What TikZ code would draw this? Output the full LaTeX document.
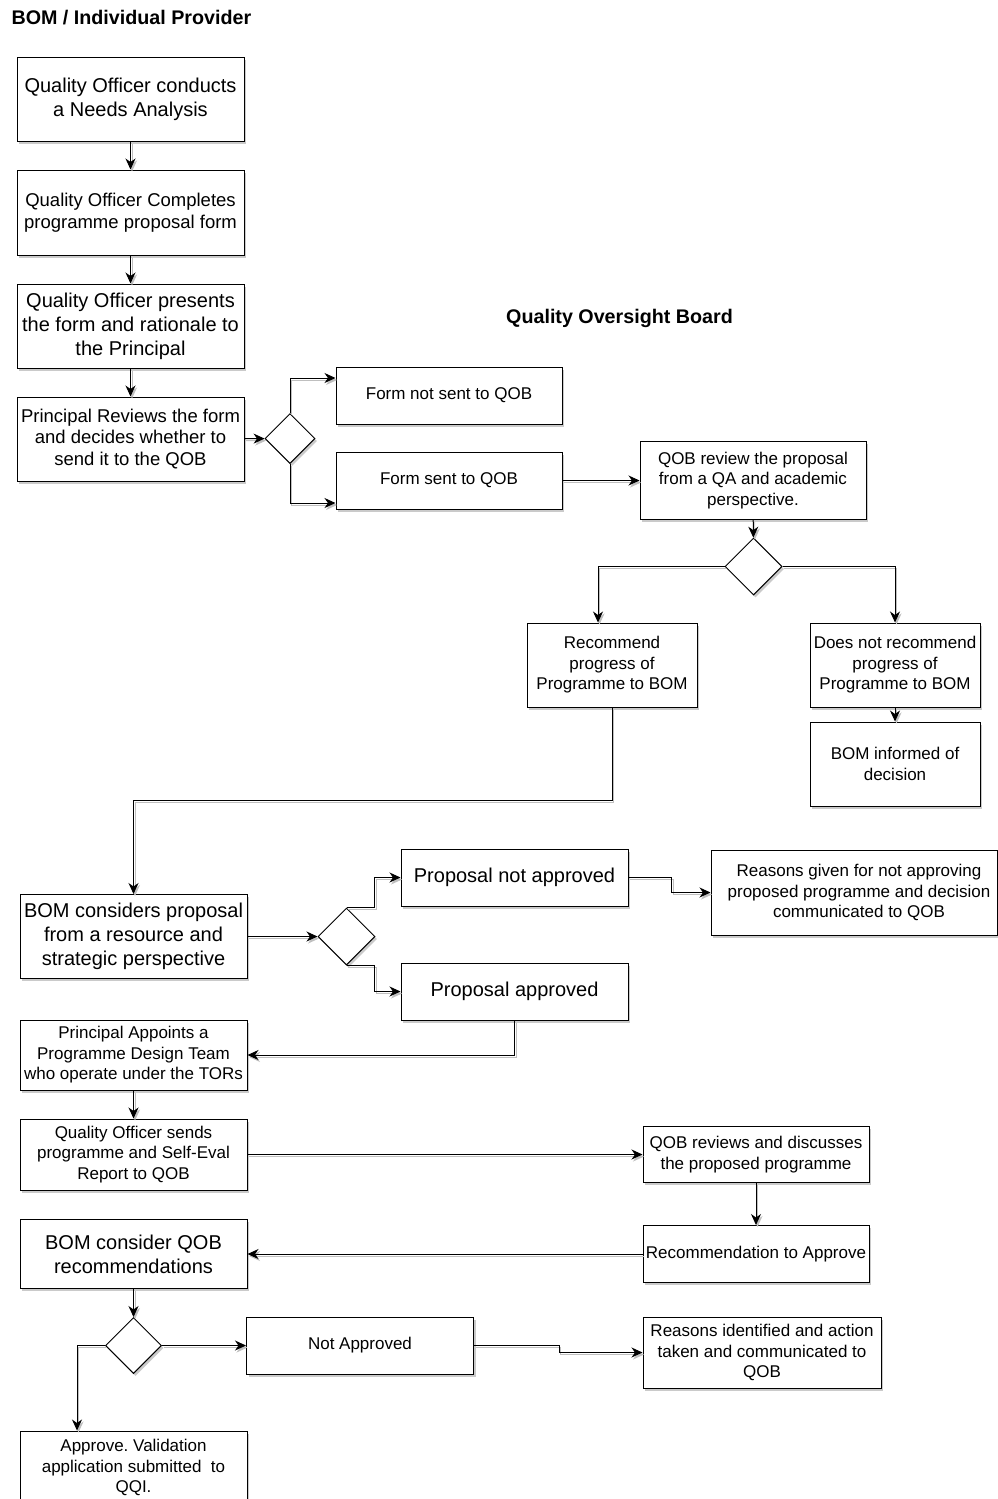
\documentclass[tikz,border=0pt]{standalone}
\usepackage{fontspec}
\setmainfont{Liberation Sans}
\usetikzlibrary{shapes,arrows.meta,positioning,shadows}
\frenchspacing

\begin{document}
\begin{tikzpicture}[x=1pt, y=-1pt,
    box/.style={draw, line width=1pt, fill=white, align=center, inner sep=2pt,
        drop shadow={shadow xshift=2pt, shadow yshift=-2.5pt, fill=black!35, opacity=0.6}},
    dec/.style={draw, line width=1pt, fill=white, diamond, aspect=1, inner sep=0pt,
        drop shadow={shadow xshift=2pt, shadow yshift=-2.5pt, fill=black!35, opacity=0.6}},
    edge/.style={draw, line width=1pt, -{Stealth[length=11pt, width=10pt, inset=3.5pt]},
        preaction={draw=black!25, line width=0.9pt, transform canvas={shift={(1.5pt,-2pt)}}}},
    bigtext/.style={font=\fontsize{20}{24}\selectfont},
    midtext/.style={font=\fontsize{18.5}{21.5}\selectfont},
    smalltext/.style={font=\fontsize{17}{20.5}\selectfont},
    title/.style={font=\fontsize{19.7}{23}\selectfont\bfseries}]

    \useasboundingbox (0,0) rectangle (998,1499);

    % Titles
    \node[title, anchor=west] (bomtitle) at (8,18) {BOM / Individual Provider};
    \node[title] (qobtitle) at (619.5,318) {Quality Oversight Board};

    % BOM side, top column
    \node[box, bigtext, minimum width=227, minimum height=84] (need) at (130.5,99) {Quality Officer conducts\\a Needs Analysis};
    \node[box, midtext, minimum width=227, minimum height=85] (form) at (130.5,212.5) {Quality Officer Completes\\programme proposal form};
    \node[box, bigtext, minimum width=227, minimum height=84] (pres) at (130.5,326) {Quality Officer presents\\the form and rationale to\\the Principal};
    \node[box, midtext, minimum width=227, minimum height=84] (rev) at (130.5,439) {Principal Reviews the form\\and decides whether to\\send it to the QOB};
    \node[dec, minimum width=50, minimum height=50] (d1) at (290,438.5) {};
    \node[box, smalltext, minimum width=226, minimum height=57] (notsent) at (449,395.5) {Form not sent to QOB};
    \node[box, smalltext, minimum width=226, minimum height=57] (sent) at (449,480.5) {Form sent to QOB};

    % QOB review
    \node[box, smalltext, minimum width=226, minimum height=78] (qobrev) at (753,480.5) {QOB review the proposal\\from a QA and academic\\perspective.};
    \node[dec, minimum width=57, minimum height=57] (d2) at (753.5,566.5) {};
    \node[box, smalltext, minimum width=170, minimum height=84] (rec) at (612,665) {Recommend\\progress of\\Programme to BOM};
    \node[box, smalltext, minimum width=170, minimum height=84] (norec) at (895,665) {Does not recommend\\progress of\\Programme to BOM};
    \node[box, smalltext, minimum width=170, minimum height=84] (binf) at (895,764) {BOM informed of\\decision};

    % BOM decision
    \node[box, bigtext, minimum width=227, minimum height=84] (bcons) at (133.5,936.5) {BOM considers proposal\\from a resource and\\strategic perspective};
    \node[dec, minimum width=57, minimum height=57] (d3) at (346.5,936.5) {};
    \node[box, bigtext, minimum width=227, minimum height=57] (pnot) at (514.5,877.5) {Proposal not approved};
    \node[box, bigtext, minimum width=227, minimum height=57] (pok) at (514.5,991.5) {Proposal approved};
    \node[box, smalltext, minimum width=286, minimum height=85] (reasons) at (854,892.5) {\hspace*{10pt}Reasons given for not approving\\\hspace*{10pt}proposed programme and decision\\\hspace*{10pt}communicated to QOB};

    % Design team and validation
    \node[box, smalltext, minimum width=227, minimum height=70] (team) at (133.5,1055) {Principal Appoints a\\Programme Design Team\\who operate under the TORs};
    \node[box, smalltext, minimum width=227, minimum height=71] (sends) at (133.5,1154.5) {Quality Officer sends\\programme and Self-Eval\\Report to QOB};
    \node[box, smalltext, minimum width=226, minimum height=56] (qobdisc) at (756,1154.5) {QOB reviews and discusses\\the proposed programme};
    \node[box, smalltext, minimum width=226, minimum height=57] (recapp) at (756,1254) {Recommendation to Approve};
    \node[box, bigtext, minimum width=227, minimum height=69] (bomrec) at (133.5,1254) {BOM consider QOB\\recommendations};
    \node[dec, minimum width=56, minimum height=56] (d4) at (133.5,1345.5) {};
    \node[box, smalltext, minimum width=227, minimum height=57] (notapp) at (360,1345.5) {Not Approved};
    \node[box, smalltext, minimum width=238, minimum height=71] (ident) at (762,1352.5) {Reasons identified and action\\taken and communicated to\\QOB};
    \node[box, smalltext, minimum width=227, minimum height=84, text depth=14pt] (approve) at (133.5,1473) {Approve. Validation\\application submitted\ \ to\\QQI.};

    % Connectors
    \foreach \a/\b in {need/form, form/pres, pres/rev, rev/d1, qobrev/d2, norec/binf, team/sends, qobdisc/recapp, bomrec/d4, d4/notapp, bcons/d3}
        \draw[edge] (\a) -- (\b);
    \draw[edge] (d1.north) |- ([yshift=17.5pt]notsent.west);
    \draw[edge] (d1.south) |- ([yshift=-22.5pt]sent.west);
    \draw[edge] (sent.east) -- (sent.east -| qobrev.west);
    \draw[edge] (d2.west) -| ([xshift=-14pt]rec.north);
    \draw[edge] (d2.east) -| (norec.north);
    \draw[edge] (rec.south) -- ++(0,93) -| (bcons.north);
    \draw[edge] (d3.north) -- ++(28,0) |- (pnot.west);
    \draw[edge] (d3.south) -- ++(28,0) |- (pok.west);
    \draw[edge] (pnot.east) -- ++(43,0) |- (reasons.west);
    \draw[edge] (pok.south) |- (team.east);
    \draw[edge] (sends.east) -- (sends.east -| qobdisc.west);
    \draw[edge] (recapp.west) -- (recapp.west -| bomrec.east);
    \draw[edge] (d4.west) -| ([xshift=-56.5pt]approve.north);
    \draw[edge] (notapp.east) -- ++(85,0) |- (ident.west);
\end{tikzpicture}
\end{document}
